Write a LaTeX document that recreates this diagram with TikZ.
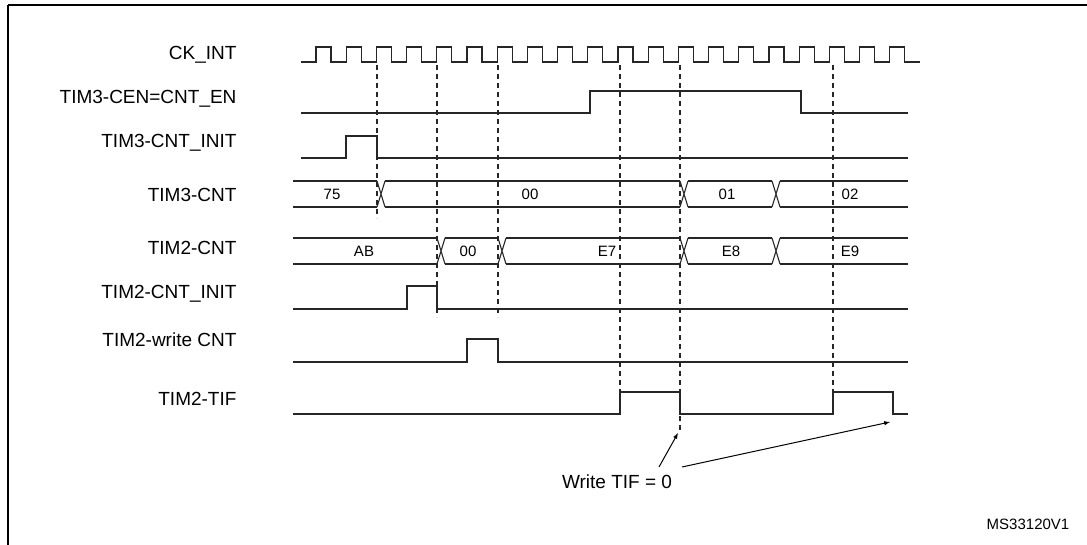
\documentclass[tikz,border=0pt]{standalone}
\usepackage{fontspec}
\setmainfont{Liberation Sans}
\begin{document}
\begin{tikzpicture}[x=1pt,y=-1pt,
  sig/.style={line width=1.1pt,black!85},
  dsh/.style={line width=1.1pt,dash pattern=on 5pt off 4pt,black!85},
  lab/.style={anchor=east,font=\fontsize{19}{19}\selectfont},
  val/.style={font=\fontsize{15}{15}\selectfont},
  note/.style={font=\fontsize{19}{19}\selectfont},
  arr/.style={line width=1pt,-latex}]
\useasboundingbox (0,0) rectangle (1087,545);
\draw[line width=1.6pt] (8,5) -- (8,560) (8,5) -- (1100,5);
% labels
\node[lab] (l1) at (240,55) {CK\_INT};
\node[lab] (l2) at (240,99) {TIM3-CEN=CNT\_EN};
\node[lab] (l3) at (240,143) {TIM3-CNT\_INIT};
\node[lab] (l4) at (240,195) {TIM3-CNT};
\node[lab] (l5) at (240,248) {TIM2-CNT};
\node[lab] (l6) at (240,294) {TIM2-CNT\_INIT};
\node[lab] (l7) at (240,340) {TIM2-write CNT};
\node[lab] (l8) at (240,399) {TIM2-TIF};
% clock
\draw[sig] (301,62) -- (316,62)
  \foreach \k in {0,...,19}{ -- ({316+30.2*\k},62) -- ({316+30.2*\k},47) -- ({331+30.2*\k},47) -- ({331+30.2*\k},62) -- ({346+30.2*\k},62)} -- (908,62);
% dashed
\draw[dsh] (377,65) -- (377,218);
\draw[dsh] (437,65) -- (437,317);
\draw[dsh] (498,65) -- (498,317);
\draw[dsh] (620,65) -- (620,392);
\draw[dsh] (680,65) -- (680,432);
\draw[dsh] (833,65) -- (833,392);
% CEN
\draw[sig] (301,113) -- (590,113) -- (590,91) -- (801,91) -- (801,113) -- (908,113);
% TIM3-CNT_INIT
\draw[sig] (301,158) -- (346,158) -- (346,136) -- (377,136) -- (377,158) -- (908,158);
% TIM3-CNT bus
\foreach \y in {181,207}{
  \draw[sig] (293,\y) -- (377,\y) (385,\y) -- (680,\y) (688,\y) -- (772,\y) (780,\y) -- (908,\y);}
\foreach \a in {377,680,772}{
  \draw[sig] (\a,181) -- (\a+8,207) (\a,207) -- (\a+8,181);}
\node[val] (v1) at (332,194) {75};
\node[val] (v2) at (530,194) {00};
\node[val] (v3) at (727,194) {01};
\node[val] (v4) at (850,194) {02};
% TIM2-CNT bus
\foreach \y in {238,264}{
  \draw[sig] (293,\y) -- (437,\y) (445,\y) -- (498,\y) (506,\y) -- (680,\y) (688,\y) -- (772,\y) (780,\y) -- (908,\y);}
\foreach \a in {437,498,680,772}{
  \draw[sig] (\a,238) -- (\a+8,264) (\a,264) -- (\a+8,238);}
\node[val] (w1) at (364,251) {AB};
\node[val] (w2) at (468,251) {00};
\node[val] (w3) at (607,251) {E7};
\node[val] (w4) at (731,251) {E8};
\node[val] (w5) at (850,251) {E9};
% TIM2-CNT_INIT
\draw[sig] (293,309) -- (407,309) -- (407,286) -- (437,286) -- (437,309) -- (908,309);
% write CNT
\draw[sig] (293,362) -- (467,362) -- (467,339) -- (498,339) -- (498,362) -- (908,362);
% TIF
\draw[sig] (293,414) -- (620,414) -- (620,392) -- (680,392) -- (680,414) -- (833,414) -- (833,392) -- (893,392) -- (893,414) -- (908,414);
% annotation
\coordinate (t1) at (678,433);
\coordinate (t2) at (890,422);
\node[note] (wt) at (617,482) {Write TIF = 0};
\draw[arr] (659,467) -- (t1);
\draw[arr] (682,467) -- (t2);
\node[font=\fontsize{15}{15}\selectfont] (ms) at (1028,524) {MS33120V1};
\end{tikzpicture}
\end{document}
